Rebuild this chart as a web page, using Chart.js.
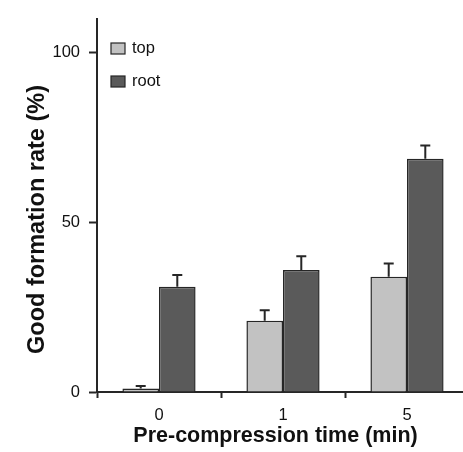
<!DOCTYPE html>
<html>
<head>
<meta charset="utf-8">
<script src="https://cdn.jsdelivr.net/npm/chart.js@4/dist/chart.umd.min.js"></script>
<style>
  html, body { margin: 0; padding: 0; background: #fff; overflow: hidden; }
  #wrap { position: relative; width: 472px; height: 452px; }
</style>
</head>
<body>
<div id="wrap"><canvas id="chart"></canvas></div>
<script>
  'use strict';

  var CATEGORIES = ['0', '1', '5'];
  var TOP_VALUES = [1, 21, 34];
  var TOP_ERRORS = [0.75, 3.1, 3.9];
  var ROOT_VALUES = [31, 36, 68.8];
  var ROOT_ERRORS = [3.5, 4, 3.9];
  var Y_TICKS = [0, 50, 100];

  var FONT = 'Liberation Sans, Arial, sans-serif';
  var INK = '#262626';

  // upward-only error bars with a short cap
  var errorBars = {
    id: 'errorBars',
    afterDatasetsDraw: function (chart) {
      var ctx = chart.ctx;
      var yScale = chart.scales.y;
      ctx.save();
      ctx.strokeStyle = INK;
      ctx.lineWidth = 2;
      chart.data.datasets.forEach(function (ds, i) {
        var meta = chart.getDatasetMeta(i);
        meta.data.forEach(function (bar, j) {
          var yTop = yScale.getPixelForValue(ds.data[j] + ds.errors[j]);
          ctx.beginPath();
          ctx.moveTo(bar.x, bar.y);
          ctx.lineTo(bar.x, yTop);
          ctx.moveTo(bar.x - 5, yTop);
          ctx.lineTo(bar.x + 5, yTop);
          ctx.stroke();
        });
      });
      ctx.restore();
    }
  };

  // legend inside the plot and the two bold axis titles
  var decorations = {
    id: 'decorations',
    afterDraw: function (chart) {
      var ctx = chart.ctx;
      var area = chart.chartArea;
      ctx.save();
      ctx.textBaseline = 'middle';
      ctx.font = '16.5px ' + FONT;
      chart.data.datasets.forEach(function (ds, i) {
        var y = 43 + i * 33;
        ctx.fillStyle = ds.backgroundColor;
        ctx.fillRect(area.left + 14, y, 14, 11);
        ctx.strokeStyle = INK;
        ctx.lineWidth = 1.2;
        ctx.strokeRect(area.left + 14, y, 14, 11);
        ctx.fillStyle = '#111';
        ctx.textAlign = 'left';
        ctx.fillText(ds.label, area.left + 35, y + 5.5);
      });

      ctx.fillStyle = '#111';
      ctx.textAlign = 'center';
      ctx.textBaseline = 'alphabetic';
      ctx.font = 'bold 21.5px ' + FONT;
      ctx.fillText('Pre-compression time (min)', 275.5, 442);

      ctx.font = 'bold 23.5px ' + FONT;
      ctx.translate(44, 219.5);
      ctx.rotate(-Math.PI / 2);
      ctx.fillText('Good formation rate (%)', 0, 0);
      ctx.restore();
    }
  };

  new Chart(document.getElementById('chart'), {
    type: 'bar',
    data: {
      labels: CATEGORIES,
      datasets: [{
        label: 'top',
        data: TOP_VALUES,
        errors: TOP_ERRORS,
        backgroundColor: '#c2c2c2',
        borderColor: INK,
        borderWidth: 1.5,
        borderSkipped: 'bottom',
        barPercentage: 1.0,
        categoryPercentage: 0.59
      }, {
        label: 'root',
        data: ROOT_VALUES,
        errors: ROOT_ERRORS,
        backgroundColor: '#5a5a5a',
        borderColor: INK,
        borderWidth: 1.5,
        borderSkipped: 'bottom',
        barPercentage: 1.0,
        categoryPercentage: 0.59
      }]
    },
    options: {
      responsive: true,
      maintainAspectRatio: false,
      animation: false,
      layout: { padding: { top: 14, right: 3, left: 0, bottom: 0 } },
      plugins: {
        legend: { display: false },
        tooltip: { enabled: false }
      },
      scales: {
        x: {
          afterFit: function (scale) { scale.height = 60; },
          grid: {
            offset: true,
            drawOnChartArea: false,
            tickLength: 6,
            tickWidth: 2,
            tickColor: INK
          },
          border: { color: INK, width: 2 },
          ticks: {
            padding: 8,
            color: '#111',
            font: { family: FONT, size: 16.5 }
          }
        },
        y: {
          min: 0,
          max: 110,
          afterFit: function (scale) { scale.width = 97; },
          afterBuildTicks: function (scale) {
            scale.ticks = Y_TICKS.map(function (v) { return { value: v }; });
          },
          grid: {
            drawOnChartArea: false,
            tickLength: 8,
            tickWidth: 2,
            tickColor: INK
          },
          border: { color: INK, width: 2 },
          ticks: {
            padding: 9,
            color: '#111',
            font: { family: FONT, size: 16.5 }
          }
        }
      }
    },
    plugins: [errorBars, decorations]
  });
</script>
</body>
</html>
